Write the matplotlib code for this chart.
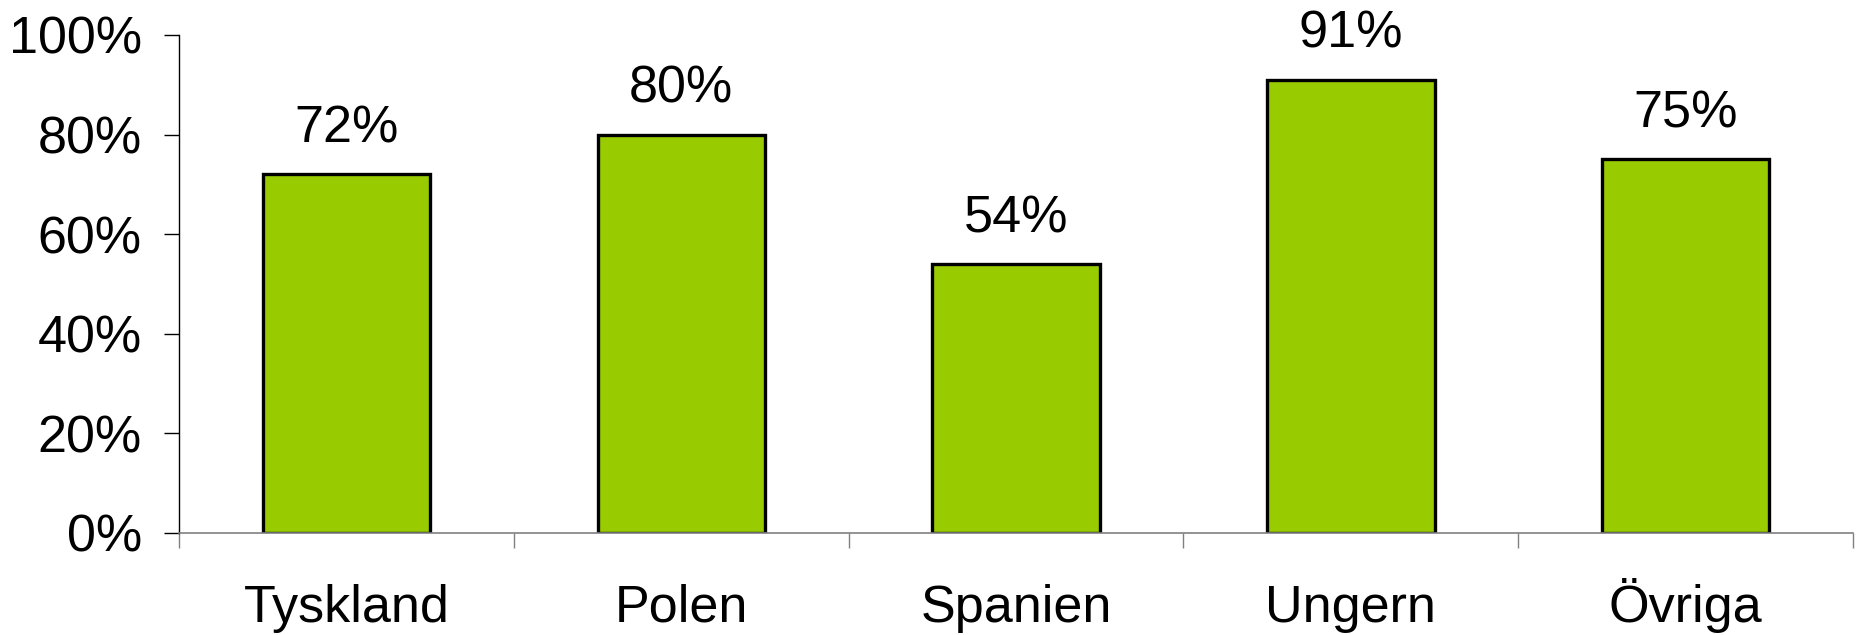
import matplotlib
matplotlib.use("Agg")
import matplotlib.pyplot as plt
import numpy as np

categories = ["Tyskland", "Polen", "Spanien", "Ungern", "Övriga"]
values = [72, 80, 54, 91, 75]
labels = ["72%", "80%", "54%", "91%", "75%"]
yticks = [0, 20, 40, 60, 80, 100]
ytick_labels = ["0%", "20%", "40%", "60%", "80%", "100%"]

plt.rcParams['font.family'] = ['Liberation Sans', 'DejaVu Sans']
FS = 37.5

fig = plt.figure(figsize=(18.59, 6.35), dpi=100)
ax = fig.add_axes([179/1859, 102/635, (1853-179)/1859, (533-35)/635])

x = np.arange(len(categories))
ax.bar(x, values, width=0.5, color="#99CC00", edgecolor="black", linewidth=2.4, zorder=3)

for xi, v, lab in zip(x, values, labels):
    ax.annotate(lab, (xi, v), xytext=(0, 23), textcoords="offset points",
                ha="center", va="baseline", fontsize=FS)

ax.set_xlim(-0.5, len(categories) - 0.5)
ax.set_ylim(0, 100)
ax.set_yticks(yticks)
ax.set_yticklabels(ytick_labels, fontsize=FS)
ax.tick_params(axis="y", direction="out", length=10.8, width=1, pad=16, colors="black")

ax.set_xticks(np.arange(-0.5, len(categories), 1.0))
ax.set_xticklabels([])
ax.set_xticks(x, minor=True)
ax.set_xticklabels(categories, minor=True, fontsize=FS)
for t in ax.get_xticklabels(minor=True):
    t.set_verticalalignment("baseline")
ax.tick_params(axis="x", which="major", direction="out", length=11, width=1, color="#808080")
ax.tick_params(axis="x", which="minor", length=0, pad=64)
ax.xaxis.get_major_ticks()[0].tick1line.set_color("black")

for s in ["top", "right"]:
    ax.spines[s].set_visible(False)
ax.spines["left"].set_color("black")
ax.spines["left"].set_linewidth(1)
ax.spines["left"].set_bounds(0, 100)
ax.spines["bottom"].set_color("#808080")
ax.spines["bottom"].set_linewidth(1.2)
ax.spines["bottom"].set_zorder(4)

fig.savefig("out.png", dpi=100)
